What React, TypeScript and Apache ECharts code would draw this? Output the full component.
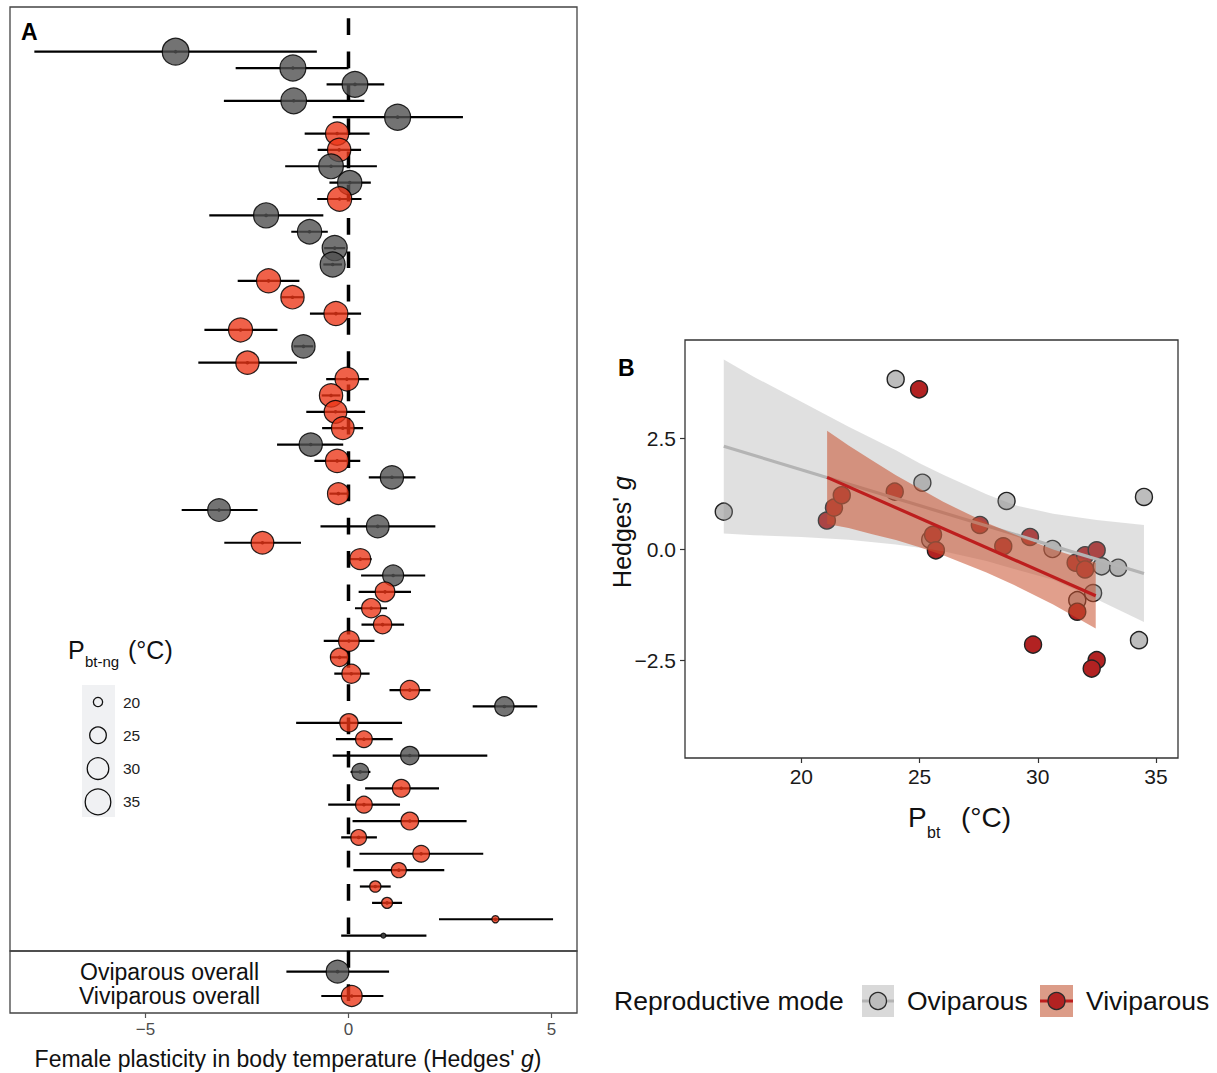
import React, { useEffect, useRef } from "react";
import * as echarts from "echarts";

// ---------- Panel A: per-study effect sizes (rows top to bottom) ----------
const rowMode = ["O","O","O","O","O","V","V","O","O","V","O","O","O","O","V","V","V","V","O","V","V","V","V","V","O","V","O","V","O","O","V","V","O","V","V","V","V","V","V","V","O","V","V","O","O","V","V","V","V","V","V","V","V","V","O"];
const rowG = [-4.26,-1.37,0.16,-1.35,1.21,-0.28,-0.23,-0.43,0.03,-0.22,-2.03,-0.96,-0.34,-0.39,-1.97,-1.38,-0.31,-2.66,-1.11,-2.49,-0.04,-0.43,-0.32,-0.14,-0.93,-0.28,1.07,-0.25,-3.19,0.72,-2.12,0.29,1.10,0.90,0.56,0.84,0.01,-0.22,0.07,1.51,3.84,0.01,0.38,1.51,0.29,1.30,0.38,1.51,0.25,1.79,1.24,0.66,0.95,3.62,0.86];
const rowLow = [-7.74,-2.78,-0.54,-3.07,-0.39,-1.08,-0.76,-1.56,-0.47,-0.77,-3.43,-1.41,-0.60,-0.62,-2.73,-1.65,-0.95,-3.55,-1.35,-3.70,-0.55,-0.66,-1.04,-0.65,-1.76,-0.84,0.50,-0.47,-4.11,-0.69,-3.06,0.01,0.31,0.25,0.16,0.32,-0.61,-0.45,-0.35,1.01,3.06,-1.29,-0.31,-0.39,0.05,0.41,-0.50,0.10,-0.18,0.27,0.12,0.28,0.58,2.23,-0.18];
const rowHigh = [-0.78,0.00,0.88,0.39,2.82,0.52,0.31,0.70,0.55,0.32,-0.62,-0.51,-0.08,-0.16,-1.21,-1.11,0.31,-1.75,-0.87,-1.27,0.50,-0.20,0.41,0.36,-0.13,0.29,1.65,-0.03,-2.24,2.14,-1.17,0.57,1.89,1.54,0.95,1.37,0.64,0.01,0.52,2.02,4.65,1.32,1.09,3.42,0.54,2.23,1.27,2.91,0.70,3.32,2.36,1.04,1.32,5.04,1.92];
const rowPbtNg = [36.5,35.5,35.1,35.1,35.5,32.0,32.0,33.8,33.3,33.3,34.2,33.3,34.2,34.2,32.9,32.0,32.9,32.9,32.0,32.0,32.5,32.0,31.3,31.3,32.0,32.0,32.0,30.1,31.3,31.3,31.3,29.3,29.3,27.9,27.5,26.6,29.0,26.6,27.2,27.5,27.5,26.6,25.1,26.6,25.3,26.0,25.1,26.0,24.2,25.1,23.7,21.1,20.9,19.1,18.4];

const overallLabels = ["Oviparous overall", "Viviparous overall"];
const overallMode = ["O", "V"];
const overallG = [-0.27, 0.08];
const overallLow = [-1.53, -0.67];
const overallHigh = [1.0, 0.86];
const overallPbtNg = [31.3, 29.3];

const sizeLegendValues = [20, 25, 30, 35];
const xTicksA = [-5, 0, 5];

// ---------- Panel B ----------
const oviPbt = [16.72, 23.99, 25.12, 25.45, 28.68, 30.62, 31.67, 32.34, 32.70, 33.40, 34.28, 34.49];
const oviG = [0.85, 3.83, 1.50, 0.22, 1.09, 0.01, -1.14, -0.98, -0.38, -0.41, -2.04, 1.18];
const viviPbt = [21.08, 21.38, 21.71, 23.95, 24.98, 25.57, 25.69, 27.55, 28.54, 29.67, 31.60, 32.00, 32.00, 32.49, 31.67, 29.80, 32.49, 32.28];
const viviG = [0.65, 0.94, 1.22, 1.30, 3.60, 0.33, -0.02, 0.55, 0.07, 0.28, -0.30, -0.13, -0.45, -0.02, -1.40, -2.14, -2.49, -2.68];

const oviFitX = [16.72, 34.49];
const oviFitY = [2.32, -0.54];
const viviFitX = [21.09, 32.45];
const viviFitY = [1.62, -1.04];

const oviBandX = [16.72, 18, 20, 22, 24, 25, 26, 27.83, 29, 30.65, 32.49, 34.49];
const oviBandHigh = [4.27, 3.88, 3.32, 2.76, 2.23, 1.94, 1.68, 1.24, 1.00, 0.80, 0.66, 0.55];
const oviBandLow = [0.36, 0.32, 0.28, 0.22, 0.11, 0.04, -0.04, -0.26, -0.44, -0.68, -1.12, -1.63];

const viviBandX = [21.09, 22, 23, 24, 25, 26, 27.83, 29, 30.65, 32.45];
const viviBandHigh = [2.67, 2.34, 2.00, 1.67, 1.37, 1.07, 0.60, 0.34, 0.00, -0.30];
const viviBandLow = [0.57, 0.48, 0.34, 0.21, 0.05, -0.13, -0.52, -0.80, -1.24, -1.78];

const xTicksB = [20, 25, 30, 35];
const yTicksB = [-2.5, 0, 2.5];

const FONT = '"Liberation Sans", Arial, Helvetica, sans-serif';
const FILL_A: Record<string, string> = { O: "rgba(80,80,80,0.8)", V: "rgba(236,52,22,0.78)" };

const sizeOf = (v: number) => Math.sqrt(Math.max(86 + 38 * (v - 20), 16));
const minus = (s: string) => s.replace("-", "\u2212");

function errorSeries(axisIdx: number, low: number[], high: number[], g: number[]) {
  return {
    type: "custom",
    xAxisIndex: axisIdx,
    yAxisIndex: axisIdx,
    silent: true,
    z: 2,
    encode: { x: [1, 2, 3], y: 0 },
    data: g.map((v, i) => [i + 1, low[i], high[i], v]),
    renderItem: (params: any, api: any) => {
      const y = api.value(0);
      const p1 = api.coord([api.value(1), y]);
      const p2 = api.coord([api.value(2), y]);
      const c = api.coord([api.value(3), y]);
      return {
        type: "group",
        children: [
          { type: "line", shape: { x1: p1[0], y1: p1[1], x2: p2[0], y2: p2[1] }, style: { stroke: "#000", lineWidth: 2.2 } },
          { type: "circle", shape: { cx: c[0], cy: c[1], r: 1.8 }, style: { fill: "#000" } },
        ],
      };
    },
  };
}

function ribbonSeries(xs: number[], lo: number[], hi: number[], fill: string, z: number) {
  return {
    type: "custom",
    xAxisIndex: 2,
    yAxisIndex: 2,
    silent: true,
    z,
    data: [[xs[0], lo[0]]],
    renderItem: (params: any, api: any) => {
      const pts: number[][] = [];
      xs.forEach((x, i) => pts.push(api.coord([x, hi[i]])));
      for (let i = xs.length - 1; i >= 0; i--) pts.push(api.coord([xs[i], lo[i]]));
      return { type: "polygon", shape: { points: pts }, style: { fill } };
    },
  };
}

export default function App() {
  const ref = useRef<HTMLDivElement>(null);
  useEffect(() => {
    if (!ref.current) return;
    const chart = echarts.init(ref.current, undefined, { renderer: "svg" });

    const legendAGraphics: any[] = [
      { type: "rect", shape: { x: 82, y: 685, width: 33, height: 132 }, style: { fill: "#f0f1f3" } },
      { type: "text", x: 68, y: 650, style: { text: "P", fontSize: 25, fontFamily: FONT, fill: "#111", verticalAlign: "middle" } },
      { type: "text", x: 85, y: 661, style: { text: "bt-ng", fontSize: 15, fontFamily: FONT, fill: "#111", verticalAlign: "middle" } },
      { type: "text", x: 128, y: 650, style: { text: "(°C)", fontSize: 25, fontFamily: FONT, fill: "#111", verticalAlign: "middle" } },
    ];
    sizeLegendValues.forEach((v, i) => {
      const cy = 702 + i * 33.3;
      legendAGraphics.push({ type: "circle", shape: { cx: 98, cy, r: sizeOf(v) / 2 }, style: { fill: "none", stroke: "#111", lineWidth: 1.3 } });
      legendAGraphics.push({ type: "text", x: 123, y: cy, style: { text: String(v), fontSize: 15.5, fontFamily: FONT, fill: "#222", verticalAlign: "middle" } });
    });

    const option: any = {
      animation: false,
      backgroundColor: "#fff",
      grid: [
        { left: 10, top: 7, width: 567, height: 944, show: true, borderColor: "#444", borderWidth: 1.3, backgroundColor: "transparent" },
        { left: 10, top: 951, width: 567, height: 62, show: true, borderColor: "#444", borderWidth: 1.3, backgroundColor: "transparent" },
        { left: 685, top: 340, width: 493, height: 418, show: true, borderColor: "#333", borderWidth: 1.3, backgroundColor: "transparent" },
      ],
      xAxis: [
        { gridIndex: 0, type: "value", min: -8.34, max: 5.63, show: false },
        {
          gridIndex: 1, type: "value", min: -8.34, max: 5.63,
          axisLine: { show: false, onZero: false },
          axisTick: { show: true, length: 5, lineStyle: { color: "#555", width: 1.2 }, customValues: xTicksA },
          axisLabel: { customValues: xTicksA, formatter: (v: number) => minus(String(v)), color: "#4d4d4d", fontSize: 17, fontFamily: FONT, margin: 8 },
          splitLine: { show: false },
          name: "Female plasticity in body temperature (Hedges' {i|g})",
          nameLocation: "middle",
          nameGap: 34,
          nameTextStyle: { fontSize: 23, fontFamily: FONT, color: "#111", padding: [0, 11, 0, 0], rich: { i: { fontStyle: "italic", fontSize: 23, fontFamily: FONT, color: "#111" } } },
        },
        {
          gridIndex: 2, type: "value", min: 15.08, max: 35.93,
          axisLine: { show: false, onZero: false },
          axisTick: { show: true, length: 5, lineStyle: { color: "#333", width: 1.2 }, customValues: xTicksB },
          axisLabel: { customValues: xTicksB, formatter: (v: number) => String(v), color: "#1a1a1a", fontSize: 21, fontFamily: FONT, margin: 8 },
          splitLine: { show: false },
        },
      ],
      yAxis: [
        { gridIndex: 0, type: "value", min: -1.73, max: 55.94, inverse: true, show: false },
        { gridIndex: 1, type: "value", min: 0.15, max: 2.7, inverse: true, show: false },
        {
          gridIndex: 2, type: "value", min: -4.69, max: 4.71,
          axisLine: { show: false, onZero: false },
          axisTick: { show: true, length: 5, lineStyle: { color: "#333", width: 1.2 }, customValues: yTicksB },
          axisLabel: { customValues: yTicksB, formatter: (v: number) => minus(v.toFixed(1)), color: "#1a1a1a", fontSize: 21, fontFamily: FONT, margin: 9 },
          splitLine: { show: false },
        },
      ],
      series: [
        // Panel A top
        {
          type: "line", xAxisIndex: 0, yAxisIndex: 0, symbol: "none", silent: true, z: 1,
          data: [[0, -1.04], [0, 55.94]],
          lineStyle: { color: "#000", width: 3.5, type: [16.7, 16.6] },
        },
        errorSeries(0, rowLow, rowHigh, rowG),
        {
          type: "scatter", xAxisIndex: 0, yAxisIndex: 0, silent: true, z: 3,
          data: rowG.map((g, i) => ({ value: [g, i + 1, rowPbtNg[i]], itemStyle: { color: FILL_A[rowMode[i]] } })),
          symbolSize: (v: number[]) => sizeOf(v[2]),
          itemStyle: { borderColor: "rgba(0,0,0,0.85)", borderWidth: 1.2, opacity: 1 },
        },
        // Panel A bottom (overall)
        {
          type: "line", xAxisIndex: 1, yAxisIndex: 1, symbol: "none", silent: true, z: 1,
          data: [[0, 0.15], [0, 2.7]],
          lineStyle: { color: "#000", width: 3.5, type: [16.7, 16.6] },
        },
        errorSeries(1, overallLow, overallHigh, overallG),
        {
          type: "scatter", xAxisIndex: 1, yAxisIndex: 1, silent: true, z: 3,
          data: overallG.map((g, i) => ({ value: [g, i + 1, overallPbtNg[i]], itemStyle: { color: FILL_A[overallMode[i]] } })),
          symbolSize: (v: number[]) => sizeOf(v[2]),
          itemStyle: { borderColor: "rgba(0,0,0,0.85)", borderWidth: 1.2, opacity: 1 },
        },
        {
          type: "custom", xAxisIndex: 1, yAxisIndex: 1, silent: true,
          data: overallLabels.map((_, i) => [-4.41, i + 1]),
          renderItem: (params: any, api: any) => {
            const p = api.coord([api.value(0), api.value(1)]);
            return {
              type: "text", x: p[0], y: p[1],
              style: { text: overallLabels[params.dataIndex], align: "center", verticalAlign: "middle", fontSize: 23, fontFamily: FONT, fill: "#111" },
            };
          },
        },
        // Panel B points
        {
          type: "scatter", xAxisIndex: 2, yAxisIndex: 2, silent: true, symbolSize: 17, z: 2,
          data: oviPbt.map((x, i) => [x, oviG[i]]),
          itemStyle: { color: "#bdbdbd", borderColor: "#222", borderWidth: 1.4, opacity: 1 },
        },
        {
          type: "scatter", xAxisIndex: 2, yAxisIndex: 2, silent: true, symbolSize: 17, z: 2,
          data: viviPbt.map((x, i) => [x, viviG[i]]),
          itemStyle: { color: "#b22222", borderColor: "#222", borderWidth: 1.4, opacity: 1 },
        },
        ribbonSeries(oviBandX, oviBandLow, oviBandHigh, "rgba(153,153,153,0.3)", 5),
        {
          type: "line", xAxisIndex: 2, yAxisIndex: 2, symbol: "none", silent: true, z: 6,
          data: oviFitX.map((x, i) => [x, oviFitY[i]]),
          lineStyle: { color: "#b4b4b4", width: 3.2 },
        },
        ribbonSeries(viviBandX, viviBandLow, viviBandHigh, "rgba(200,80,45,0.55)", 7),
        {
          type: "line", xAxisIndex: 2, yAxisIndex: 2, symbol: "none", silent: true, z: 8,
          data: viviFitX.map((x, i) => [x, viviFitY[i]]),
          lineStyle: { color: "#bd1e1e", width: 3.2 },
        },
      ],
      graphic: [
        { type: "text", x: 21, y: 32, style: { text: "A", fontSize: 23, fontWeight: "bold", fontFamily: FONT, fill: "#000", verticalAlign: "middle" } },
        { type: "text", x: 618, y: 368, style: { text: "B", fontSize: 23, fontWeight: "bold", fontFamily: FONT, fill: "#000", verticalAlign: "middle" } },
        ...legendAGraphics,
        // Panel B axis titles
        { type: "text", x: 908, y: 817, style: { text: "P", fontSize: 28, fontFamily: FONT, fill: "#111", verticalAlign: "middle" } },
        { type: "text", x: 927, y: 832, style: { text: "bt", fontSize: 16, fontFamily: FONT, fill: "#111", verticalAlign: "middle" } },
        { type: "text", x: 961, y: 817, style: { text: "(°C)", fontSize: 28, fontFamily: FONT, fill: "#111", verticalAlign: "middle" } },
        {
          type: "text", x: 622, y: 532, rotation: Math.PI / 2,
          style: { text: "Hedges' {i|g}", fontSize: 25, fontFamily: FONT, fill: "#111", align: "center", verticalAlign: "middle", rich: { i: { fontStyle: "italic", fontSize: 25, fontFamily: FONT, fill: "#111" } } },
        },
        // Panel B legend
        { type: "text", x: 614, y: 1001, style: { text: "Reproductive mode", fontSize: 26.5, fontFamily: FONT, fill: "#111", verticalAlign: "middle" } },
        { type: "rect", shape: { x: 862, y: 985, width: 32, height: 32 }, style: { fill: "#d9d9d9" } },
        { type: "line", shape: { x1: 862, y1: 1001, x2: 894, y2: 1001 }, style: { stroke: "#b4b4b4", lineWidth: 3 } },
        { type: "circle", shape: { cx: 878, cy: 1001, r: 8.5 }, style: { fill: "#bdbdbd", stroke: "#2b2b2b", lineWidth: 1.3 } },
        { type: "text", x: 907, y: 1001, style: { text: "Oviparous", fontSize: 26.5, fontFamily: FONT, fill: "#111", verticalAlign: "middle" } },
        { type: "rect", shape: { x: 1040, y: 985, width: 33, height: 32 }, style: { fill: "#dc9c88" } },
        { type: "line", shape: { x1: 1040, y1: 1001, x2: 1073, y2: 1001 }, style: { stroke: "#bd1e1e", lineWidth: 3 } },
        { type: "circle", shape: { cx: 1056.5, cy: 1001, r: 8.5 }, style: { fill: "#b22222", stroke: "#2b2b2b", lineWidth: 1.3 } },
        { type: "text", x: 1086, y: 1001, style: { text: "Viviparous", fontSize: 26.5, fontFamily: FONT, fill: "#111", verticalAlign: "middle" } },
      ],
    };
    chart.setOption(option);
    return () => chart.dispose();
  }, []);
  return <div ref={ref} style={{ position: "fixed", left: 0, top: 0, width: 1217, height: 1073, background: "#fff" }} />;
}
